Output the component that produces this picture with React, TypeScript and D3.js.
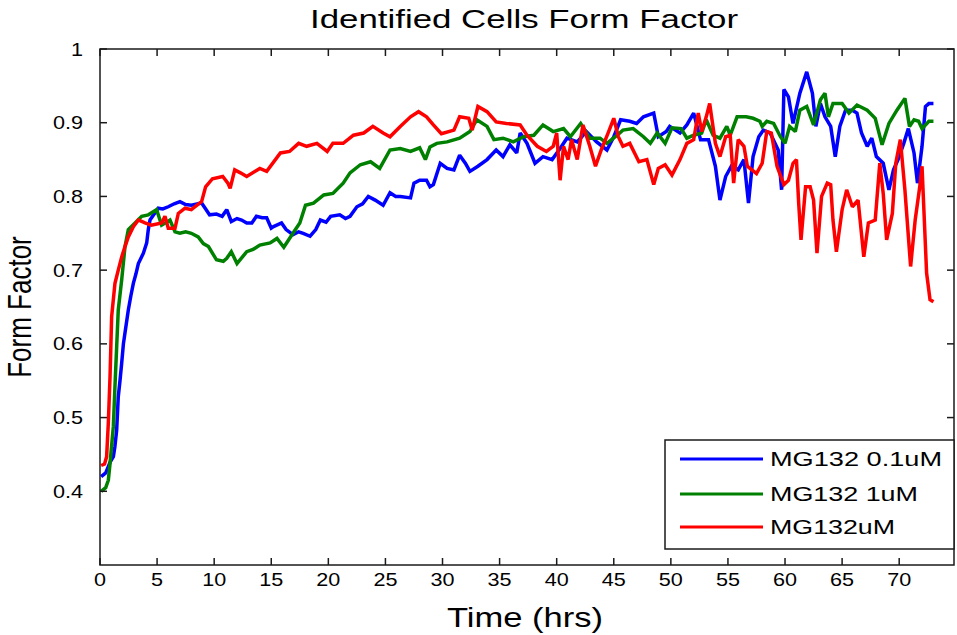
import React from "react";
import * as d3 from "d3";

const W = 957;
const H = 635;

const xTicks = [0, 5, 10, 15, 20, 25, 30, 35, 40, 45, 50, 55, 60, 65, 70];
const yTicks = [0.4, 0.5, 0.6, 0.7, 0.8, 0.9, 1];
const seriesNames = ["MG132 0.1uM", "MG132 1uM", "MG132uM"];
const seriesColors = ["#0000ff", "#008000", "#ff0000"];

const blueData: [number, number][] = [
  [0.1,0.42],[0.5,0.425],[0.9,0.44],[1.17,0.447],[1.3,0.46],[1.46,0.483],[1.6,0.528],[1.75,0.55],[1.9,0.574],[2.05,0.6],[2.19,0.615],[2.48,0.646],[2.7,0.665],[2.92,0.682],[3.15,0.695],[3.36,0.709],[3.8,0.723],[4.09,0.737],[4.23,0.755],[4.38,0.768],[4.7,0.775],[5.1,0.784],[5.5,0.783],[5.98,0.786],[6.5,0.79],[7.0,0.793],[7.5,0.789],[8.0,0.788],[8.9,0.791],[9.3,0.782],[9.6,0.775],[10.2,0.776],[10.7,0.773],[11.1,0.782],[11.5,0.766],[12.0,0.77],[12.4,0.768],[12.85,0.764],[13.3,0.764],[13.7,0.773],[14.2,0.771],[14.6,0.771],[15.0,0.757],[15.2,0.759],[15.9,0.764],[16.3,0.755],[16.9,0.748],[17.4,0.752],[17.8,0.75],[18.4,0.746],[18.9,0.755],[19.3,0.768],[19.8,0.765],[20.2,0.773],[21.0,0.775],[21.5,0.77],[21.9,0.773],[22.5,0.786],[23.0,0.79],[23.5,0.8],[24.1,0.795],[24.8,0.788],[25.4,0.805],[25.9,0.8],[26.3,0.8],[27.2,0.798],[27.5,0.818],[28.0,0.822],[28.6,0.822],[28.9,0.813],[29.2,0.816],[29.8,0.845],[30.4,0.838],[31.0,0.836],[31.5,0.856],[32.0,0.845],[32.4,0.834],[33.1,0.841],[33.9,0.85],[34.7,0.863],[35.3,0.854],[35.9,0.87],[36.5,0.859],[36.8,0.886],[37.4,0.872],[38.1,0.845],[38.8,0.854],[39.6,0.85],[40.3,0.865],[40.9,0.879],[41.8,0.874],[42.6,0.888],[43.5,0.874],[44.4,0.863],[45.0,0.881],[45.6,0.904],[46.4,0.902],[47.0,0.899],[47.6,0.908],[48.5,0.913],[48.9,0.881],[49.6,0.888],[49.9,0.895],[50.8,0.886],[51.4,0.897],[52.0,0.913],[52.6,0.877],[53.3,0.877],[53.9,0.841],[54.3,0.795],[54.8,0.827],[55.3,0.841],[55.9,0.836],[56.4,0.85],[56.8,0.791],[57.2,0.854],[57.7,0.881],[58.1,0.89],[58.7,0.886],[59.4,0.863],[59.7,0.809],[59.9,0.945],[60.3,0.935],[60.7,0.899],[61.3,0.94],[61.9,0.969],[62.4,0.94],[62.7,0.895],[63.1,0.926],[63.5,0.908],[64.0,0.895],[64.4,0.854],[64.8,0.895],[65.3,0.917],[65.9,0.917],[66.3,0.913],[66.7,0.886],[67.2,0.868],[67.6,0.879],[68.0,0.854],[68.6,0.845],[69.1,0.809],[69.5,0.836],[69.9,0.85],[70.4,0.872],[70.8,0.892],[71.3,0.859],[71.6,0.818],[72.0,0.868],[72.3,0.922],[72.6,0.926],[73.0,0.926]
];

const greenData: [number, number][] = [
  [0.1,0.40],[0.5,0.405],[0.73,0.415],[0.88,0.438],[1.17,0.488],[1.31,0.542],[1.46,0.596],[1.6,0.646],[1.9,0.687],[2.19,0.732],[2.48,0.755],[3.07,0.764],[3.65,0.773],[4.23,0.775],[4.96,0.782],[5.4,0.761],[6.13,0.768],[6.57,0.752],[7.0,0.75],[7.5,0.752],[8.0,0.75],[8.6,0.745],[9.05,0.736],[9.5,0.732],[10.2,0.714],[10.8,0.712],[11.1,0.716],[11.5,0.725],[12.0,0.709],[12.85,0.725],[13.4,0.728],[14.0,0.734],[14.9,0.737],[15.5,0.743],[16.1,0.731],[16.9,0.75],[17.5,0.764],[18.0,0.788],[18.7,0.791],[19.6,0.802],[20.4,0.804],[21.3,0.818],[21.9,0.832],[22.8,0.843],[23.7,0.847],[24.5,0.838],[25.4,0.863],[26.3,0.865],[27.2,0.861],[28.0,0.866],[28.5,0.85],[28.9,0.867],[29.5,0.872],[30.4,0.874],[31.5,0.879],[32.4,0.888],[33.0,0.904],[33.9,0.895],[34.5,0.877],[35.3,0.879],[36.2,0.874],[37.1,0.881],[38.0,0.883],[38.8,0.897],[39.7,0.888],[40.6,0.892],[41.2,0.881],[42.1,0.899],[42.9,0.879],[43.8,0.879],[44.4,0.872],[45.3,0.883],[45.8,0.89],[46.7,0.892],[47.6,0.881],[48.2,0.872],[48.8,0.886],[49.5,0.872],[50.1,0.893],[50.9,0.892],[51.4,0.879],[52.0,0.883],[52.7,0.886],[53.1,0.904],[53.7,0.883],[54.3,0.879],[54.9,0.895],[55.2,0.883],[55.8,0.908],[56.6,0.908],[57.2,0.906],[57.8,0.902],[58.0,0.895],[58.4,0.902],[59.0,0.899],[59.6,0.881],[60.0,0.872],[60.4,0.895],[60.9,0.888],[61.3,0.917],[61.9,0.922],[62.5,0.897],[63.1,0.931],[63.5,0.94],[63.8,0.908],[64.2,0.926],[65.0,0.926],[65.6,0.913],[66.3,0.924],[67.2,0.917],[67.9,0.906],[68.5,0.87],[69.1,0.899],[69.8,0.917],[70.5,0.933],[70.9,0.895],[71.3,0.904],[71.7,0.902],[72.0,0.892],[72.6,0.902],[73.0,0.902]
];

const redData: [number, number][] = [
  [0.1,0.435],[0.4,0.437],[0.58,0.447],[0.73,0.493],[0.88,0.556],[1.02,0.637],[1.31,0.682],[1.6,0.70],[1.9,0.718],[2.19,0.732],[2.48,0.745],[2.92,0.759],[3.36,0.768],[3.94,0.764],[4.5,0.761],[5.4,0.764],[5.69,0.773],[5.98,0.757],[6.57,0.757],[6.86,0.777],[7.45,0.784],[8.0,0.782],[8.9,0.793],[9.25,0.813],[9.85,0.824],[10.75,0.827],[11.2,0.818],[11.4,0.811],[11.8,0.836],[12.3,0.832],[12.85,0.827],[14.0,0.838],[14.6,0.834],[15.8,0.859],[16.6,0.861],[17.4,0.872],[18.1,0.868],[19.0,0.872],[19.9,0.861],[20.4,0.872],[21.3,0.872],[22.2,0.883],[23.1,0.886],[23.9,0.895],[24.8,0.886],[25.4,0.881],[26.3,0.895],[27.2,0.908],[27.9,0.915],[28.6,0.908],[29.2,0.897],[29.9,0.885],[31.0,0.89],[31.5,0.908],[32.3,0.906],[32.6,0.89],[33.1,0.922],[33.9,0.915],[34.7,0.901],[35.6,0.899],[36.8,0.897],[37.4,0.883],[38.3,0.868],[39.1,0.861],[39.7,0.868],[40.0,0.886],[40.3,0.822],[40.6,0.868],[41.0,0.85],[41.3,0.877],[41.8,0.85],[42.3,0.897],[42.9,0.868],[43.4,0.841],[43.9,0.863],[44.5,0.886],[45.0,0.906],[45.4,0.881],[45.8,0.868],[46.4,0.872],[47.2,0.847],[47.9,0.85],[48.5,0.816],[48.9,0.838],[49.5,0.843],[50.1,0.829],[50.8,0.85],[51.4,0.872],[52.0,0.877],[52.4,0.913],[52.7,0.888],[53.1,0.908],[53.4,0.926],[53.9,0.872],[54.3,0.854],[54.8,0.881],[55.2,0.883],[55.5,0.818],[55.9,0.877],[56.4,0.868],[56.7,0.841],[57.1,0.836],[57.5,0.831],[58.0,0.845],[58.4,0.888],[58.8,0.886],[59.3,0.841],[59.9,0.816],[60.3,0.822],[60.7,0.845],[61.0,0.85],[61.2,0.79],[61.4,0.741],[61.8,0.813],[62.2,0.813],[62.5,0.795],[62.8,0.723],[63.2,0.8],[63.7,0.818],[64.0,0.816],[64.2,0.768],[64.5,0.725],[65.0,0.782],[65.4,0.809],[65.9,0.786],[66.4,0.795],[66.9,0.718],[67.3,0.764],[67.9,0.768],[68.3,0.845],[68.6,0.804],[68.9,0.741],[69.4,0.777],[69.7,0.845],[70.1,0.877],[70.5,0.809],[71.0,0.705],[71.4,0.768],[71.8,0.813],[72.0,0.841],[72.4,0.696],[72.7,0.66],[73.0,0.657]
];

const allSeries = [blueData, greenData, redData];

const FONT = "'Liberation Sans', Arial, Helvetica, sans-serif";

export default function App() {
  const left = 100, right = 954, top = 49, bottom = 565;
  const x = d3.scaleLinear().domain([0, 74.8]).range([left, right]);
  const y = d3.scaleLinear().domain([0.3, 1]).range([bottom, top]);
  const line = d3.line<[number, number]>().x(d => x(d[0])).y(d => y(d[1]));
  const tickLen = 7;
  const axisColor = "#1a1a1a";
  const legendTextLengths = [172, 148, 125];
  const legendRows = [459, 494, 527];

  return (
    <svg width={W} height={H} style={{ position: "absolute", left: 0, top: 0, background: "#fff" }}>
      <rect x={0} y={0} width={W} height={H} fill="#fff" />
      <defs>
        <clipPath id="plotclip">
          <rect x={left} y={top} width={right - left} height={bottom - top} />
        </clipPath>
      </defs>
      {/* data */}
      <g clipPath="url(#plotclip)">
        {allSeries.map((s, i) => (
          <path key={i} d={line(s) || ""} fill="none" stroke={seriesColors[i]} strokeWidth={3.5} strokeLinejoin="miter" strokeMiterlimit={2} />
        ))}
      </g>
      {/* axes box */}
      <rect x={left} y={top} width={right - left} height={bottom - top} fill="none" stroke={axisColor} strokeWidth={1.5} />
      {xTicks.map(t => (
        <g key={"xt" + t}>
          <line x1={x(t)} x2={x(t)} y1={bottom} y2={bottom - tickLen} stroke={axisColor} strokeWidth={1.5} />
          <line x1={x(t)} x2={x(t)} y1={top} y2={top + tickLen} stroke={axisColor} strokeWidth={1.5} />
          <text transform={`translate(${x(t)},${bottom + 21}) scale(1.2,1)`} textAnchor="middle" fontFamily={FONT} fontSize={18} fill="#000">{t}</text>
        </g>
      ))}
      {yTicks.map(t => (
        <g key={"yt" + t}>
          <line x1={left} x2={left + tickLen} y1={y(t)} y2={y(t)} stroke={axisColor} strokeWidth={1.5} />
          <line x1={right} x2={right - tickLen} y1={y(t)} y2={y(t)} stroke={axisColor} strokeWidth={1.5} />
          <text transform={`translate(${left - 17},${y(t) + 6.5}) scale(1.2,1)`} textAnchor="end" fontFamily={FONT} fontSize={18} fill="#000">{String(t)}</text>
        </g>
      ))}
      {/* title & labels */}
      <text x={524} y={28} textAnchor="middle" fontFamily={FONT} fontSize={26} textLength={428} lengthAdjust="spacingAndGlyphs" fill="#000">Identified Cells Form Factor</text>
      <text x={525} y={627} textAnchor="middle" fontFamily={FONT} fontSize={28} textLength={156} lengthAdjust="spacingAndGlyphs" fill="#000">Time (hrs)</text>
      <text transform={`translate(31,307) rotate(-90) scale(1,1.25)`} textAnchor="middle" fontFamily={FONT} fontSize={26} fill="#000">Form Factor</text>
      {/* legend */}
      <rect x={665} y={440} width={right - 665} height={109} fill="#fff" stroke={axisColor} strokeWidth={1.5} />
      {seriesNames.map((n, i) => (
        <g key={n}>
          <line x1={680} x2={763} y1={legendRows[i]} y2={legendRows[i]} stroke={seriesColors[i]} strokeWidth={3} />
          <text x={770} y={legendRows[i] + 7} fontFamily={FONT} fontSize={20} textLength={legendTextLengths[i]} lengthAdjust="spacingAndGlyphs" fill="#000">{n}</text>
        </g>
      ))}
    </svg>
  );
}
